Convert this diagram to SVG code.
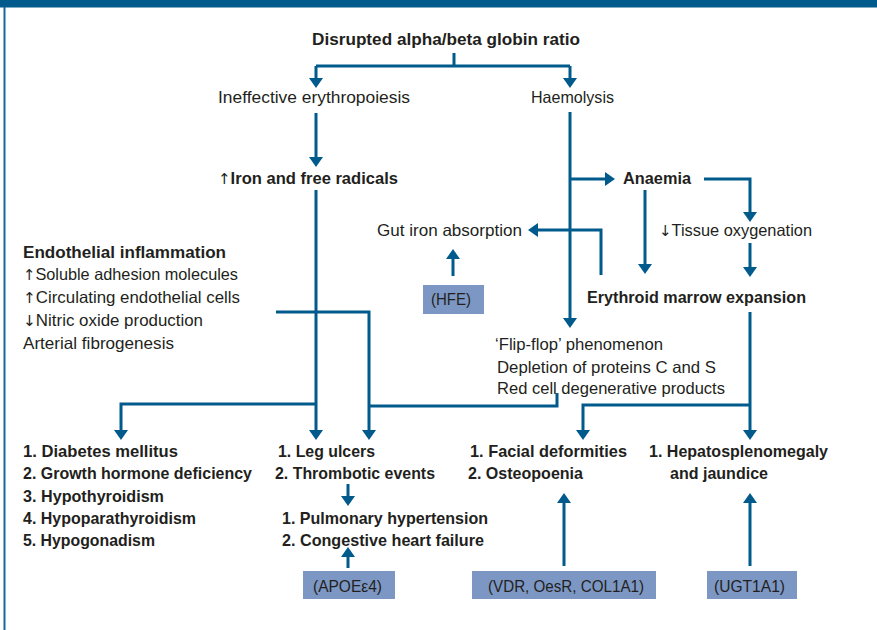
<svg xmlns="http://www.w3.org/2000/svg" width="877" height="630" viewBox="0 0 877 630">
<defs>
<style>
.t{font-family:"Liberation Sans",Arial,sans-serif;font-size:16.5px;fill:#231f20}
.b{font-weight:bold}
.n{font-weight:normal;font-family:"DejaVu Sans",sans-serif;font-size:15px}
.c{fill:none;stroke:#005a8c;stroke-width:3}
.a{marker-end:url(#ah)}
.box{fill:#7c97c3}
</style>
<marker id="ah" markerUnits="userSpaceOnUse" markerWidth="10" markerHeight="14" viewBox="0 0 10 14" refX="6" refY="7" orient="auto">
<path d="M0,0 L10,7 L0,14 z" fill="#005a8c"/>
</marker>
</defs>
<rect x="0" y="0" width="877" height="7.5" fill="#005a8c"/>
<line x1="4.5" y1="7" x2="4.5" y2="630" stroke="#1467a3" stroke-width="2"/>

<g id="connectors">
<path class="c" d="M454,53 V66"/>
<path class="c" d="M316,66 H570"/>
<path class="c a" d="M316,66 V84"/>
<path class="c a" d="M570,66 V84"/>
<path class="c a" d="M316,113 V163"/>
<path class="c a" d="M316,190 V436"/>
<path class="c a" d="M316,404 H121 V436"/>
<path class="c a" d="M276,312 H369 V436"/>
<path class="c" d="M557,393 V406 H369"/>
<path class="c a" d="M570,112 V324"/>
<path class="c a" d="M570,179 H611"/>
<path class="c a" d="M704,179 H750 V218"/>
<path class="c a" d="M750,243 V273"/>
<path class="c a" d="M645,190 V270"/>
<path class="c a" d="M601,275 V230 H532"/>
<path class="c a" d="M453,276 V253"/>
<path class="c a" d="M750,312 V436"/>
<path class="c a" d="M750,405 H583 V436"/>
<path class="c a" d="M348,484 V502"/>
<path class="c a" d="M348,568 V551"/>
<path class="c a" d="M564,566 V497"/>
<path class="c a" d="M750,566 V497"/>
</g>

<g id="title"><text class="t b" x="312" y="45" textLength="268" lengthAdjust="spacingAndGlyphs">Disrupted alpha/beta globin ratio</text></g>
<g id="ineffective"><text class="t" x="218" y="103" textLength="192" lengthAdjust="spacingAndGlyphs">Ineffective erythropoiesis</text></g>
<g id="haemolysis"><text class="t" x="531" y="103" textLength="83" lengthAdjust="spacingAndGlyphs">Haemolysis</text></g>
<g id="iron"><text class="t b" x="218" y="184" textLength="180" lengthAdjust="spacingAndGlyphs"><tspan class="n">↑</tspan>Iron and free radicals</text></g>
<g id="endothelial">
<text class="t b" x="23" y="258" textLength="203" lengthAdjust="spacingAndGlyphs">Endothelial inflammation</text>
<text class="t" x="23" y="280" textLength="215" lengthAdjust="spacingAndGlyphs"><tspan class="n">↑</tspan>Soluble adhesion molecules</text>
<text class="t" x="23" y="303" textLength="217" lengthAdjust="spacingAndGlyphs"><tspan class="n">↑</tspan>Circulating endothelial cells</text>
<text class="t" x="23" y="326" textLength="180" lengthAdjust="spacingAndGlyphs"><tspan class="n">↓</tspan>Nitric oxide production</text>
<text class="t" x="23" y="349" textLength="151" lengthAdjust="spacingAndGlyphs">Arterial fibrogenesis</text>
</g>
<g id="gut"><text class="t" x="377" y="236" textLength="145" lengthAdjust="spacingAndGlyphs">Gut iron absorption</text></g>
<g id="hfe"><rect class="box" x="423" y="285" width="61" height="29"/><text class="t" x="431" y="305" textLength="40" lengthAdjust="spacingAndGlyphs">(HFE)</text></g>
<g id="anaemia"><text class="t b" x="623" y="184" textLength="68" lengthAdjust="spacingAndGlyphs">Anaemia</text></g>
<g id="tissue"><text class="t" x="659" y="236" textLength="153" lengthAdjust="spacingAndGlyphs"><tspan class="n">↓</tspan>Tissue oxygenation</text></g>
<g id="erythroid"><text class="t b" x="587" y="303" textLength="219" lengthAdjust="spacingAndGlyphs">Erythroid marrow expansion</text></g>
<g id="flipflop">
<text class="t" x="495" y="350" textLength="168" lengthAdjust="spacingAndGlyphs">‘Flip-flop’ phenomenon</text>
<text class="t" x="497" y="373" textLength="219" lengthAdjust="spacingAndGlyphs">Depletion of proteins C and S</text>
<text class="t" x="497" y="394" textLength="228" lengthAdjust="spacingAndGlyphs">Red cell degenerative products</text>
</g>
<g id="endocrine">
<text class="t b" x="23" y="457" textLength="155" lengthAdjust="spacingAndGlyphs">1. Diabetes mellitus</text>
<text class="t b" x="23" y="479" textLength="229" lengthAdjust="spacingAndGlyphs">2. Growth hormone deficiency</text>
<text class="t b" x="23" y="502" textLength="141" lengthAdjust="spacingAndGlyphs">3. Hypothyroidism</text>
<text class="t b" x="23" y="524" textLength="173" lengthAdjust="spacingAndGlyphs">4. Hypoparathyroidism</text>
<text class="t b" x="23" y="546" textLength="132" lengthAdjust="spacingAndGlyphs">5. Hypogonadism</text>
</g>
<g id="vascular">
<text class="t b" x="278" y="457" textLength="97" lengthAdjust="spacingAndGlyphs">1. Leg ulcers</text>
<text class="t b" x="275" y="479" textLength="160" lengthAdjust="spacingAndGlyphs">2. Thrombotic events</text>
</g>
<g id="cardio">
<text class="t b" x="282" y="524" textLength="206" lengthAdjust="spacingAndGlyphs">1. Pulmonary hypertension</text>
<text class="t b" x="282" y="546" textLength="202" lengthAdjust="spacingAndGlyphs">2. Congestive heart failure</text>
</g>
<g id="apoe"><rect class="box" x="303" y="571" width="92" height="28"/><text class="t" x="313" y="592" textLength="69" lengthAdjust="spacingAndGlyphs">(APOEε4)</text></g>
<g id="bone">
<text class="t b" x="470" y="457" textLength="157" lengthAdjust="spacingAndGlyphs">1. Facial deformities</text>
<text class="t b" x="468" y="479" textLength="115" lengthAdjust="spacingAndGlyphs">2. Osteopoenia</text>
</g>
<g id="hepato">
<text class="t b" x="649" y="457" textLength="179" lengthAdjust="spacingAndGlyphs">1. Hepatosplenomegaly</text>
<text class="t b" x="670" y="479" textLength="98" lengthAdjust="spacingAndGlyphs">and jaundice</text>
</g>
<g id="vdr"><rect class="box" x="472" y="571" width="184" height="28"/><text class="t" x="488" y="592" textLength="156" lengthAdjust="spacingAndGlyphs">(VDR, OesR, COL1A1)</text></g>
<g id="ugt"><rect class="box" x="707" y="571" width="90" height="28"/><text class="t" x="714" y="592" textLength="71" lengthAdjust="spacingAndGlyphs">(UGT1A1)</text></g>
</svg>
